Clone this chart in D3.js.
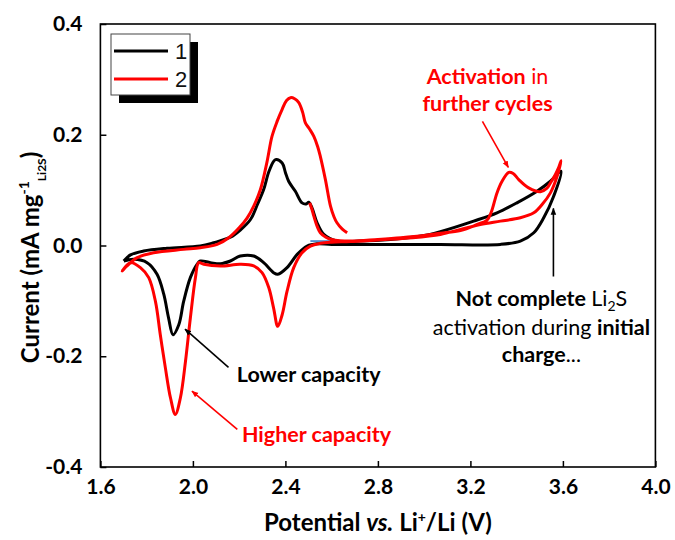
<!DOCTYPE html>
<html>
<head>
<meta charset="utf-8">
<script src="https://cdn.jsdelivr.net/npm/d3@7"></script>
<style>
  html, body { margin: 0; padding: 0; background: #fff; }
  svg { display: block; }
</style>
</head>
<body>
<svg id="chart" width="675" height="540"></svg>
<script>
// ---------------- data ----------------
const seriesNames = ["1", "2"];
const xTicks = [1.6, 2.0, 2.4, 2.8, 3.2, 3.6, 4.0];
const yTicks = [-0.4, -0.2, 0.0, 0.2, 0.4];

// cycle 1 (black): potential (V), current (mA mg-1 Li2S)
const cycle1V = [1.701,1.73,1.787,1.888,2.032,2.09,2.162,2.205,2.249,2.28,2.306,2.33,2.357,2.386,2.4,2.414,2.443,2.472,2.49,2.501,2.515,2.537,2.566,2.623,2.72,2.854,3.0,3.07,3.214,3.315,3.401,3.488,3.546,3.592,
  3.56,3.517,3.474,3.416,3.33,3.07,2.8,2.6,2.537,2.494,2.451,2.407,2.367,2.349,2.306,2.263,2.205,2.162,2.119,2.076,2.032,2.018,1.989,1.96,1.939,1.914,1.895,1.874,1.845,1.802,1.744,1.701];
const cycle1I = [-0.028,-0.017,-0.010,-0.005,-0.001,0.005,0.015,0.028,0.047,0.075,0.101,0.135,0.155,0.149,0.132,0.116,0.098,0.077,0.075,0.078,0.068,0.041,0.020,0.008,0.008,0.011,0.018,0.025,0.044,0.059,0.077,0.098,0.116,0.134,
  0.089,0.050,0.023,0.008,0.002,0.002,0.002,0.002,0.003,-0.001,-0.016,-0.040,-0.052,-0.049,-0.031,-0.019,-0.019,-0.028,-0.033,-0.031,-0.028,-0.034,-0.058,-0.101,-0.143,-0.161,-0.131,-0.088,-0.052,-0.031,-0.025,-0.028];

// cycle 2 (red)
const cycle2V = [2.505,2.515,2.523,2.537,2.551,2.575,2.6,2.68,2.8,2.9,3.0,3.07,3.157,3.229,3.272,3.29,3.315,3.337,3.366,3.385,3.409,3.452,3.503,3.53,3.546,3.567,3.582,3.592,
  3.575,3.546,3.51,3.474,3.416,3.33,3.243,3.157,3.07,2.95,2.8,2.681,2.6,2.551,2.508,2.472,2.436,2.407,2.386,2.367,2.349,2.328,2.299,2.263,2.205,2.119,2.047,2.025,2.011,1.989,1.968,1.946,1.924,1.903,1.881,1.859,1.838,1.809,1.773,1.73,1.694,
  1.715,1.759,1.83,1.96,2.032,2.105,2.155,2.2,2.235,2.263,2.292,2.32,2.342,2.365,2.386,2.405,2.422,2.44,2.458,2.475,2.486,2.505,2.523,2.54,2.551,2.573,2.595,2.61,2.623,2.645,2.667];
const cycle2I = [0.077,0.065,0.053,0.035,0.023,0.015,0.011,0.008,0.011,0.014,0.018,0.022,0.027,0.038,0.046,0.060,0.095,0.116,0.132,0.130,0.119,0.104,0.097,0.103,0.113,0.128,0.141,0.153,
  0.125,0.095,0.074,0.059,0.050,0.044,0.038,0.029,0.020,0.014,0.010,0.007,0.006,0.004,-0.001,-0.013,-0.040,-0.083,-0.125,-0.146,-0.113,-0.076,-0.049,-0.037,-0.034,-0.037,-0.034,-0.031,-0.058,-0.131,-0.209,-0.275,-0.305,-0.275,-0.221,-0.161,-0.101,-0.058,-0.040,-0.031,-0.046,
  -0.037,-0.022,-0.013,-0.007,-0.004,0.002,0.014,0.032,0.050,0.071,0.101,0.150,0.197,0.225,0.246,0.262,0.267,0.265,0.258,0.240,0.222,0.210,0.197,0.178,0.161,0.119,0.071,0.052,0.041,0.030,0.023];

// short blue trace near the open-circuit start
const startV = [2.508, 2.623];
const startI = [0.008, 0.008];

// ---------------- layout ----------------
const svg = d3.select("#chart");
const L = 100.4, R = 655.4, T = 24, B = 467;
const x = d3.scaleLinear().domain([1.6, 4.0]).range([L, R]);
const y = d3.scaleLinear().domain([-0.4, 0.4]).range([B, T]);
const FONT = "Lato, 'Open Sans', sans-serif";

const zip = (a, b) => a.map((v, i) => [v, b[i]]);
const line = d3.line().x(d => x(d[0])).y(d => y(d[1])).curve(d3.curveCatmullRom.alpha(0.5));

// defs: arrowheads
const defs = svg.append("defs");
function marker(id, color) {
  defs.append("marker").attr("id", id).attr("viewBox", "0 0 10 10")
    .attr("refX", 9).attr("refY", 5).attr("markerWidth", 7).attr("markerHeight", 7)
    .attr("markerUnits", "userSpaceOnUse").attr("orient", "auto")
    .append("path").attr("d", "M0,1 L10,5 L0,9 z").attr("fill", color);
}
marker("arrK", "#000");
marker("arrR", "#ff0000");

// curves
svg.append("path").attr("d", line(zip(startV, startI))).attr("fill", "none")
  .attr("stroke", "#3a7dc9").attr("stroke-width", 1.6);
svg.append("path").attr("d", line(zip(cycle1V, cycle1I))).attr("fill", "none")
  .attr("stroke", "#000").attr("stroke-width", 3).attr("stroke-linejoin", "round");
svg.append("path").attr("d", line(zip(cycle2V, cycle2I))).attr("fill", "none")
  .attr("stroke", "#ff0000").attr("stroke-width", 3).attr("stroke-linejoin", "round");

// axes (ticks inside)
const xAxis = d3.axisBottom(x).tickValues(xTicks).tickSizeInner(-6).tickSizeOuter(0).tickPadding(12)
  .tickFormat(d3.format(".1f"));
const yAxis = d3.axisLeft(y).tickValues(yTicks).tickSizeInner(-6).tickSizeOuter(0).tickPadding(18)
  .tickFormat(d3.format(".1f"));
const gx = svg.append("g").attr("transform", `translate(0,${B})`).call(xAxis);
const gy = svg.append("g").attr("transform", `translate(${L},0)`).call(yAxis);
[gx, gy].forEach(g => {
  g.select(".domain").remove();
  g.selectAll(".tick line").attr("stroke", "#000").attr("stroke-width", 1.5);
  g.selectAll(".tick text").attr("font-family", FONT).attr("font-weight", "bold")
    .attr("font-size", 21).attr("fill", "#000");
});
gy.selectAll(".tick text").text(d => d3.format(".1f")(d).replace("−", "-"));

// frame
svg.append("rect").attr("x", L).attr("y", T).attr("width", R - L).attr("height", B - T)
  .attr("fill", "none").attr("stroke", "#000").attr("stroke-width", 1.6);

// axis titles
const xt = svg.append("text").attr("x", (L + R) / 2).attr("y", 531).attr("text-anchor", "middle")
  .attr("font-family", FONT).attr("font-weight", "bold").attr("font-size", 24);
xt.append("tspan").text("Potential ");
xt.append("tspan").attr("font-style", "italic").text("vs.");
xt.append("tspan").text(" Li");
xt.append("tspan").attr("font-size", 14).attr("dy", -9).text("+");
xt.append("tspan").attr("dy", 9).text("/Li (V)");

const yt = svg.append("text").attr("transform", `translate(39,${(T + B) / 2 + 12}) rotate(-90)`)
  .attr("text-anchor", "middle").attr("font-family", FONT).attr("font-weight", "bold").attr("font-size", 24);
yt.append("tspan").text("Current (mA mg");
yt.append("tspan").attr("font-size", 14).attr("dy", -10).text("-1");
yt.append("tspan").attr("font-size", 12).attr("dy", 17).text("Li2S");
yt.append("tspan").attr("dy", -7).text(")");

// legend
const lg = svg.append("g");
lg.append("rect").attr("x", 119).attr("y", 42).attr("width", 79).attr("height", 61).attr("fill", "#000");
lg.append("rect").attr("x", 111).attr("y", 34).attr("width", 79).attr("height", 61)
  .attr("fill", "#fff").attr("stroke", "#444").attr("stroke-width", 1);
const legColors = ["#000", "#ff0000"];
seriesNames.forEach((n, i) => {
  const yy = 51 + i * 28;
  lg.append("line").attr("x1", 114).attr("x2", 168).attr("y1", yy).attr("y2", yy)
    .attr("stroke", legColors[i]).attr("stroke-width", 3);
  lg.append("text").attr("x", 175).attr("y", yy + 8).attr("font-family", "'Liberation Sans', Arial, sans-serif")
    .attr("font-size", 22).attr("fill", "#111").text(n);
});

// annotations (in data coordinates)
const arrows = [
  {from: [3.252, 0.224], to: [3.364, 0.141], c: "#ff0000", m: "arrR"},
  {from: [3.559, -0.056], to: [3.559, 0.067], c: "#000", m: "arrK"},
  {from: [2.154, -0.220], to: [1.966, -0.151], c: "#000", m: "arrK"},
  {from: [2.192, -0.332], to: [1.996, -0.263], c: "#ff0000", m: "arrR"}
];
arrows.forEach(a => {
  svg.append("line").attr("x1", x(a.from[0])).attr("y1", y(a.from[1]))
    .attr("x2", x(a.to[0])).attr("y2", y(a.to[1]))
    .attr("stroke", a.c).attr("stroke-width", 1.6).attr("marker-end", `url(#${a.m})`);
});

function rich(xv, yv, anchor, color, parts) {
  const t = svg.append("text").attr("x", x(xv)).attr("y", y(yv)).attr("text-anchor", anchor)
    .attr("font-family", FONT).attr("font-size", 21.5).attr("fill", color);
  parts.forEach(p => {
    const s = t.append("tspan").text(p.t);
    if (p.b) s.attr("font-weight", "bold");
    if (p.dy) s.attr("dy", p.dy);
    if (p.fs) s.attr("font-size", p.fs);
  });
}
rich(3.274, 0.2925, "middle", "#ff0000", [{t: "Activation", b: 1}, {t: " in"}]);
rich(3.274, 0.242, "middle", "#ff0000", [{t: "further cycles", b: 1}]);
rich(3.507, -0.110, "middle", "#000", [{t: "Not complete ", b: 1}, {t: "Li"}, {t: "2", fs: 14, dy: 5}, {t: "S", dy: -5}]);
rich(3.507, -0.161, "middle", "#000", [{t: "activation during "}, {t: "initial", b: 1}]);
rich(3.507, -0.211, "middle", "#000", [{t: "charge", b: 1}, {t: "..."}]);
rich(2.190, -0.2456, "start", "#000", [{t: "Lower capacity", b: 1}]);
rich(2.212, -0.3557, "start", "#ff0000", [{t: "Higher capacity", b: 1}]);
</script>
</body>
</html>
